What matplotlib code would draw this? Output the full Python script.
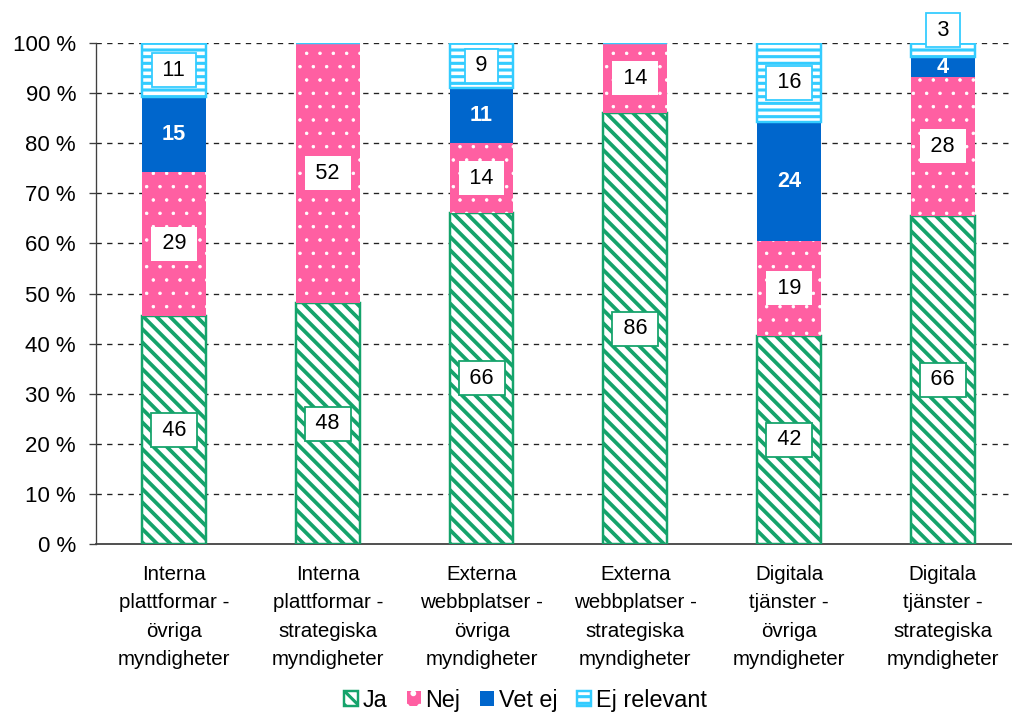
import matplotlib
matplotlib.use("Agg")
import matplotlib.pyplot as plt
import numpy as np

plt.rcParams['font.family'] = ['Liberation Sans', 'DejaVu Sans']

categories = [
    "Interna\nplattformar -\növriga\nmyndigheter",
    "Interna\nplattformar -\nstrategiska\nmyndigheter",
    "Externa\nwebbplatser -\növriga\nmyndigheter",
    "Externa\nwebbplatser -\nstrategiska\nmyndigheter",
    "Digitala\ntjänster -\növriga\nmyndigheter",
    "Digitala\ntjänster -\nstrategiska\nmyndigheter",
]
ja = [45.5, 48.1, 66.1, 86.0, 41.6, 65.5]
nej = [28.8, 51.9, 13.9, 14.0, 18.9, 27.7]
vet_ej = [14.9, 0.0, 11.0, 0.0, 23.7, 4.0]
ej_relevant = [10.8, 0.0, 9.0, 0.0, 15.8, 2.8]
series_names = ["Ja", "Nej", "Vet ej", "Ej relevant"]
yticks = np.arange(0, 101, 10)

GREEN = "#15A36B"
PINK = "#FF5FA2"
BLUE = "#0066CC"
LIGHTBLUE = "#33CCFF"

DPI = 80
fig = plt.figure(figsize=(1012 / DPI, 718 / DPI), dpi=DPI)
ax = fig.add_axes([96 / 1012, 174 / 718, 1 - 96 / 1012, (544 - 43) / 718])

x = np.arange(len(categories))
width = 0.415
FS = 19.5


def hatch_lw(container, lw):
    for p in container:
        if hasattr(p, "set_hatch_linewidth"):
            p.set_hatch_linewidth(lw)


plt.rcParams['hatch.linewidth'] = 3.4
b_ja = ax.bar(x, ja, width, facecolor="white", edgecolor=GREEN, hatch="\\\\",
              linewidth=2.2, zorder=3)
hatch_lw(b_ja, 3.4)

plt.rcParams['hatch.linewidth'] = 0.7
bottom = np.array(ja)
b_nej = ax.bar(x, nej, width, bottom=bottom, facecolor=PINK, edgecolor="white",
               hatch=".", linewidth=0, zorder=3)
hatch_lw(b_nej, 0.7)

bottom = bottom + np.array(nej)
b_vet = ax.bar(x, vet_ej, width, bottom=bottom, facecolor=BLUE, edgecolor=BLUE,
               linewidth=0, zorder=3)

plt.rcParams['hatch.linewidth'] = 2.8
bottom2 = bottom + np.array(vet_ej)
b_ej = ax.bar(x, ej_relevant, width, bottom=bottom2, facecolor="white",
              edgecolor=LIGHTBLUE, hatch="--", linewidth=2.2, zorder=3)
hatch_lw(b_ej, 2.8)


def box(ec):
    return dict(boxstyle="square,pad=0.3", fc="white", ec=ec, lw=1.6)


def lbl(v):
    return f"\u2009{v:.0f}\u2009"


# value labels
for i in range(len(x)):
    ax.text(x[i], ja[i] / 2, lbl(ja[i]), ha="center", va="center",
            fontsize=FS, zorder=5, bbox=box(GREEN))
    ax.text(x[i], ja[i] + nej[i] / 2, lbl(nej[i]), ha="center", va="center",
            fontsize=FS, zorder=5, bbox=box("none"))
    if vet_ej[i] > 0:
        ax.text(x[i], ja[i] + nej[i] + vet_ej[i] / 2, f"{vet_ej[i]:.0f}",
                ha="center", va="center", fontsize=FS, color="white",
                fontweight="bold", zorder=5)
    if ej_relevant[i] > 0:
        y = ja[i] + nej[i] + vet_ej[i] + ej_relevant[i] / 2
        if ej_relevant[i] < 5:
            y = 102.5
        ax.text(x[i], y, lbl(ej_relevant[i]), ha="center", va="center",
                fontsize=FS, zorder=6, clip_on=False, bbox=box(LIGHTBLUE))

ax.set_xlim(-0.507, 5.449)
ax.set_ylim(0, 100)
ax.set_yticks(yticks)
ax.set_yticklabels([f"{v} %" for v in yticks], fontsize=20)
ax.set_xticks(x)
ax.set_xticklabels(categories, fontsize=18.5, linespacing=1.62)
ax.tick_params(axis="x", length=0, pad=19)
ax.tick_params(axis="y", length=6, width=1.2, color="#404040", pad=12)

for yv in yticks[1:]:
    ax.axhline(yv, color="#222222", lw=1.2, ls=(0, (4, 4)), zorder=1)

for s in ["top", "right"]:
    ax.spines[s].set_visible(False)
ax.spines["left"].set_color("#404040")
ax.spines["bottom"].set_color("#404040")
ax.spines["left"].set_linewidth(1.2)
ax.spines["bottom"].set_linewidth(1.6)

fig.legend([b_ja[0], b_nej[0], b_vet[0], b_ej[0]], series_names, loc="lower center",
           bbox_to_anchor=(0.519, -0.021), ncol=4, frameon=False, fontsize=21,
           handlelength=0.6, handleheight=0.6, handletextpad=0.2, columnspacing=0.85)

fig.savefig("out.png", dpi=DPI)
